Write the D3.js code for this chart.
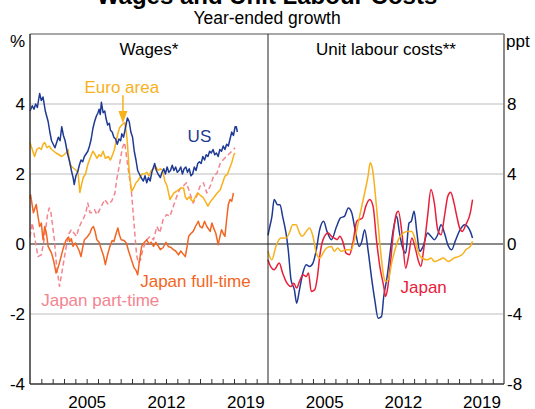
<!DOCTYPE html>
<html>
<head>
<meta charset="utf-8">
<script src="https://cdn.jsdelivr.net/npm/d3@7"></script>
<style>
  body { margin: 0; background: #fff; }
  text { font-family: Arial, "Liberation Sans", sans-serif; }
</style>
</head>
<body>
<div id="wrapper"></div>
<script>
// Wages panel (per cent, year-ended)
const usWages = [[2000.0,3.8],[2000.2,3.95],[2000.35,3.85],[2000.5,4.0],[2000.65,3.9],[2000.85,4.3],[2001.0,4.1],[2001.15,4.2],[2001.35,3.8],[2001.6,3.5],[2001.75,3.2],[2001.9,2.95],[2002.05,2.85],[2002.2,2.75],[2002.35,2.9],[2002.5,3.05],[2002.65,2.95],[2002.8,3.35],[2002.95,3.1],[2003.1,2.95],[2003.3,2.6],[2003.5,2.35],[2003.65,2.1],[2003.8,1.9],[2003.9,1.7],[2004.05,1.95],[2004.2,2.05],[2004.35,2.25],[2004.5,2.4],[2004.65,2.35],[2004.8,2.5],[2005.0,2.6],[2005.1,2.65],[2005.25,2.8],[2005.4,3.0],[2005.55,3.3],[2005.7,3.5],[2005.85,3.65],[2006.0,3.75],[2006.1,3.85],[2006.2,3.7],[2006.3,4.05],[2006.45,3.75],[2006.6,3.8],[2006.7,3.6],[2006.85,3.4],[2007.0,3.45],[2007.1,3.25],[2007.25,3.2],[2007.4,3.05],[2007.55,3.0],[2007.7,2.85],[2007.85,3.0],[2008.0,2.95],[2008.1,3.15],[2008.25,3.05],[2008.35,3.2],[2008.5,3.45],[2008.6,3.6],[2008.75,3.5],[2008.9,3.2],[2009.05,3.05],[2009.2,2.65],[2009.35,2.4],[2009.5,2.1],[2009.65,2.0],[2009.8,1.9],[2010.0,1.8],[2010.15,1.95],[2010.3,1.75],[2010.45,1.9],[2010.6,1.8],[2010.75,2.05],[2010.9,2.2],[2011.0,2.3],[2011.15,2.1],[2011.3,2.0],[2011.5,1.9],[2011.65,2.05],[2011.8,2.15],[2011.95,2.0],[2012.1,2.2],[2012.25,2.05],[2012.4,2.1],[2012.55,2.25],[2012.7,2.1],[2012.85,2.2],[2013.0,2.05],[2013.15,2.1],[2013.3,2.2],[2013.45,2.0],[2013.6,2.15],[2013.75,2.2],[2013.9,2.05],[2014.05,2.15],[2014.2,1.95],[2014.35,2.0],[2014.5,2.2],[2014.65,2.1],[2014.8,2.3],[2014.95,2.35],[2015.1,2.3],[2015.25,2.5],[2015.4,2.4],[2015.55,2.55],[2015.7,2.5],[2015.85,2.65],[2016.0,2.6],[2016.15,2.7],[2016.3,2.55],[2016.45,2.6],[2016.6,2.5],[2016.75,2.7],[2016.9,2.65],[2017.05,2.8],[2017.2,2.7],[2017.35,2.85],[2017.5,2.8],[2017.65,3.0],[2017.8,3.2],[2017.95,3.1],[2018.1,3.35],[2018.2,3.35],[2018.3,3.2]];

const euroWages = [[2000.0,2.9],[2000.2,2.7],[2000.4,2.5],[2000.6,2.7],[2000.8,2.75],[2001.0,2.7],[2001.15,2.85],[2001.3,2.9],[2001.5,2.75],[2001.7,2.8],[2001.9,2.7],[2002.1,2.65],[2002.3,2.6],[2002.55,2.55],[2002.8,2.5],[2003.0,2.55],[2003.2,2.6],[2003.35,2.7],[2003.5,2.3],[2003.7,2.2],[2003.9,2.15],[2004.1,2.1],[2004.25,2.0],[2004.4,1.47],[2004.55,1.7],[2004.7,1.9],[2004.9,2.0],[2005.1,2.27],[2005.3,2.45],[2005.55,2.65],[2005.75,2.55],[2005.9,2.45],[2006.1,2.55],[2006.25,2.5],[2006.45,2.65],[2006.65,2.45],[2006.9,2.5],[2007.1,2.4],[2007.3,2.56],[2007.45,2.7],[2007.6,2.94],[2007.75,3.15],[2007.9,3.32],[2008.1,3.4],[2008.35,3.47],[2008.5,3.2],[2008.6,2.85],[2008.75,2.1],[2008.95,1.5],[2009.15,1.6],[2009.35,1.75],[2009.5,1.8],[2009.7,1.9],[2009.9,2.0],[2010.1,2.0],[2010.3,2.05],[2010.5,1.95],[2010.7,2.1],[2010.9,2.15],[2011.1,2.2],[2011.3,2.1],[2011.5,2.15],[2011.7,2.1],[2011.9,1.8],[2012.1,1.65],[2012.35,1.27],[2012.5,1.35],[2012.7,1.46],[2012.9,1.5],[2013.1,1.55],[2013.3,1.6],[2013.55,1.6],[2013.7,1.35],[2013.85,1.27],[2014.05,1.35],[2014.25,1.25],[2014.4,1.22],[2014.6,1.35],[2014.8,1.46],[2015.0,1.4],[2015.3,1.32],[2015.5,1.2],[2015.7,1.08],[2015.9,1.2],[2016.2,1.32],[2016.5,1.45],[2016.8,1.56],[2017.0,1.75],[2017.2,1.94],[2017.4,1.98],[2017.6,2.15],[2017.8,2.32],[2018.0,2.56],[2018.1,2.6]];

const japanFullTime = [[2000.0,1.3],[2000.05,1.41],[2000.3,0.89],[2000.55,1.13],[2000.7,0.8],[2000.85,0.5],[2001.0,0.6],[2001.15,0.12],[2001.3,0.5],[2001.45,0.3],[2001.6,-0.07],[2001.9,-0.26],[2002.1,-0.5],[2002.3,-0.83],[2002.45,-0.7],[2002.6,-0.54],[2002.9,-0.16],[2003.05,0.0],[2003.2,0.12],[2003.4,0.2],[2003.5,0.07],[2003.65,0.15],[2003.8,-0.07],[2004.0,0.03],[2004.2,-0.1],[2004.35,-0.2],[2004.5,-0.36],[2004.65,-0.1],[2004.8,0.12],[2005.05,0.2],[2005.3,0.32],[2005.45,0.45],[2005.6,0.5],[2005.75,0.35],[2005.9,0.12],[2006.1,0.05],[2006.3,-0.16],[2006.5,-0.35],[2006.65,-0.59],[2006.85,-0.3],[2007.05,-0.07],[2007.25,0.1],[2007.4,0.07],[2007.6,0.3],[2007.75,0.46],[2007.9,0.25],[2008.05,0.12],[2008.3,0.1],[2008.5,0.03],[2008.7,-0.2],[2008.95,-0.45],[2009.2,-0.69],[2009.35,-0.75],[2009.5,-0.88],[2009.65,-0.5],[2009.85,-0.07],[2010.1,0.05],[2010.3,0.12],[2010.5,0.0],[2010.7,0.05],[2010.9,-0.07],[2011.1,0.05],[2011.3,-0.05],[2011.5,-0.16],[2011.75,-0.1],[2012.0,0.05],[2012.2,-0.07],[2012.45,-0.1],[2012.65,-0.16],[2012.85,-0.2],[2013.1,-0.31],[2013.3,-0.2],[2013.45,-0.26],[2013.7,-0.36],[2013.85,-0.1],[2014.0,0.22],[2014.2,0.3],[2014.4,0.36],[2014.6,0.5],[2014.85,0.65],[2015.0,0.5],[2015.2,0.46],[2015.4,0.65],[2015.6,0.5],[2015.9,0.36],[2016.05,0.6],[2016.2,0.46],[2016.4,0.3],[2016.6,-0.02],[2016.9,0.41],[2017.05,0.3],[2017.2,0.22],[2017.35,0.7],[2017.5,1.13],[2017.65,1.27],[2017.8,1.22],[2017.95,1.46]];

const japanPartTime = [[2000.0,0.2],[2000.2,0.6],[2000.4,0.22],[2000.7,-0.36],[2001.0,-0.31],[2001.3,0.22],[2001.55,0.85],[2001.7,1.03],[2001.85,0.89],[2002.15,0.12],[2002.35,-0.64],[2002.6,-1.21],[2002.85,-0.74],[2003.2,-0.07],[2003.45,0.3],[2003.65,0.41],[2003.9,0.3],[2004.1,0.22],[2004.3,0.45],[2004.5,0.6],[2004.75,0.75],[2004.95,0.93],[2005.1,1.17],[2005.3,0.89],[2005.5,0.9],[2005.7,0.98],[2005.9,0.84],[2006.1,0.95],[2006.3,1.08],[2006.6,1.27],[2006.9,1.13],[2007.2,1.22],[2007.5,1.46],[2007.65,1.84],[2007.9,2.27],[2008.15,2.75],[2008.35,2.9],[2008.6,2.3],[2008.95,1.5],[2009.2,0.5],[2009.4,-0.3],[2009.55,-0.54],[2009.75,-0.45],[2009.95,-0.16],[2010.3,0.12],[2010.6,0.22],[2010.9,0.12],[2011.2,0.5],[2011.45,0.32],[2011.75,0.7],[2012.05,0.84],[2012.35,0.79],[2012.65,1.08],[2012.95,1.36],[2013.2,1.56],[2013.5,1.65],[2013.8,1.75],[2014.1,1.46],[2014.4,1.17],[2014.7,1.36],[2015.0,1.65],[2015.3,1.75],[2015.6,1.46],[2015.9,1.65],[2016.2,1.94],[2016.5,2.03],[2016.8,2.32],[2017.05,2.41],[2017.35,2.51],[2017.65,2.6],[2017.95,2.7],[2018.1,2.75]];

// Unit labour costs panel (ppt)
const usULC = [[2000.0,0.5],[2000.1,0.82],[2000.35,1.58],[2000.55,2.54],[2000.85,2.25],[2001.07,2.25],[2001.3,1.58],[2001.6,0.63],[2001.8,-0.33],[2002.05,-2.05],[2002.35,-2.62],[2002.55,-3.38],[2002.8,-2.62],[2003.1,-1.66],[2003.4,-1.19],[2003.7,-1.28],[2004.0,-1.09],[2004.3,-0.33],[2004.6,0.82],[2004.95,1.3],[2005.25,0.72],[2005.65,0.25],[2006.1,1.0],[2006.45,1.49],[2006.8,1.58],[2007.15,2.06],[2007.45,1.78],[2007.75,0.82],[2008.1,-0.14],[2008.35,0.15],[2008.6,0.82],[2008.9,-0.33],[2009.2,-1.86],[2009.5,-3.19],[2009.8,-4.24],[2010.1,-4.15],[2010.3,-3.0],[2010.6,-1.86],[2010.9,-0.33],[2011.15,0.82],[2011.45,1.58],[2011.7,0.63],[2011.95,-0.14],[2012.25,-0.52],[2012.55,1.2],[2012.75,1.3],[2013.0,1.87],[2013.25,0.63],[2013.5,-0.42],[2013.8,-0.14],[2014.2,0.63],[2014.5,0.44],[2014.8,0.25],[2015.1,0.53],[2015.4,1.1],[2015.7,0.63],[2016.0,-0.04],[2016.35,-0.33],[2016.65,0.15],[2017.1,0.82],[2017.5,1.1],[2017.75,1.0],[2018.0,0.72],[2018.2,0.34]];

const euroULC = [[2000.0,-0.4],[2000.05,-0.52],[2000.35,-0.9],[2000.7,-0.14],[2001.15,0.34],[2001.6,0.34],[2001.9,0.63],[2002.2,1.1],[2002.5,1.1],[2002.8,0.63],[2003.05,0.44],[2003.4,0.72],[2003.7,0.92],[2004.0,0.44],[2004.3,-0.52],[2004.6,-0.8],[2004.9,-0.52],[2005.2,-0.23],[2005.65,-0.14],[2005.9,-0.42],[2006.2,-0.23],[2006.5,-0.42],[2006.9,-0.33],[2007.4,-0.33],[2007.7,0.25],[2008.15,1.58],[2008.6,2.92],[2008.9,3.87],[2009.1,4.64],[2009.3,4.26],[2009.65,2.15],[2009.95,0.06],[2010.3,-1.86],[2010.45,-2.14],[2010.7,-2.05],[2011.0,-1.09],[2011.3,-0.33],[2011.6,0.25],[2012.05,0.63],[2012.4,0.72],[2012.8,0.72],[2013.1,0.25],[2013.4,-0.52],[2013.7,-0.8],[2014.2,-0.9],[2014.5,-0.8],[2014.8,-1.0],[2015.25,-0.9],[2015.6,-0.8],[2016.05,-1.0],[2016.55,-0.8],[2017.0,-0.71],[2017.4,-0.52],[2017.6,-0.33],[2018.0,-0.14],[2018.2,0.15]];

const japanULC = [[2000.0,-0.9],[2000.05,-1.0],[2000.55,-1.47],[2001.0,-1.09],[2001.3,-1.66],[2001.6,-2.14],[2002.05,-2.43],[2002.3,-2.24],[2002.55,-2.52],[2002.8,-2.14],[2003.1,-1.76],[2003.4,-1.86],[2003.6,-1.66],[2003.85,-2.71],[2004.15,-2.62],[2004.4,-1.86],[2004.6,-0.71],[2004.9,0.25],[2005.35,0.63],[2005.65,0.44],[2005.9,0.34],[2006.15,0.25],[2006.4,0.44],[2006.65,0.15],[2006.95,-0.52],[2007.25,-0.61],[2007.55,0.06],[2007.9,1.3],[2008.4,1.49],[2008.7,2.15],[2009.05,2.54],[2009.35,2.15],[2009.65,0.25],[2009.95,-1.28],[2010.3,-2.43],[2010.45,-3.0],[2010.6,-2.71],[2010.9,-1.09],[2011.15,0.63],[2011.45,1.78],[2011.6,1.87],[2011.95,0.44],[2012.25,-1.38],[2012.5,-0.71],[2012.8,0.34],[2013.1,-0.23],[2013.4,-1.0],[2013.6,-1.28],[2013.85,-0.33],[2014.2,1.58],[2014.5,3.11],[2014.8,2.35],[2015.1,0.82],[2015.4,0.53],[2015.7,1.58],[2016.0,2.73],[2016.25,2.96],[2016.55,2.35],[2016.8,1.58],[2017.05,0.92],[2017.3,0.72],[2017.6,1.1],[2018.0,1.78],[2018.2,2.54]];

const leftTicks = [-4, -2, 0, 2, 4];
const rightTicks = [-8, -4, 0, 4, 8];
const yearLabels = [2005, 2012, 2019];
const yearTicks = d3.range(2001, 2021);

const colors = {
  us: "#1f3a93",
  euro: "#f7b11b",
  japanFT: "#f26522",
  japanPT: "#f4848f",
  japanULC: "#e8203a",
};

const width = 535;
const height = 409;
const plot = { left: 30, mid: 268, right: 504, top: 34, bottom: 384 };
const fontFamily = "Arial, 'Liberation Sans', sans-serif";

const svg = d3
  .select("#wrapper")
  .append("svg")
  .attr("width", width)
  .attr("height", height)
  .style("display", "block");

const xLeft = d3.scaleLinear().domain([2000, 2021]).range([plot.left, plot.mid]);
const xRight = d3.scaleLinear().domain([2000, 2021]).range([plot.mid, plot.right]);
const yLeft = d3.scaleLinear().domain([-4, 6]).range([plot.bottom, plot.top]);
const yRight = d3.scaleLinear().domain([-8, 12]).range([plot.bottom, plot.top]);

// titles
svg.append("text")
  .attr("x", 267).attr("y", 4)
  .attr("text-anchor", "middle")
  .attr("font-size", "24px").attr("font-weight", "bold")
  .attr("fill", "#000")
  .text("Wages and Unit Labour Costs");

svg.append("text")
  .attr("x", 267).attr("y", 24)
  .attr("text-anchor", "middle")
  .attr("font-size", "17.5px")
  .text("Year-ended growth");

// gridlines
const grid = svg.append("g");
[-2, 2, 4].forEach((v) => {
  grid.append("line")
    .attr("x1", plot.left).attr("x2", plot.right)
    .attr("y1", yLeft(v)).attr("y2", yLeft(v))
    .attr("stroke", "#d3d3d3").attr("stroke-width", 1.5);
});
grid.append("line")
  .attr("x1", plot.left).attr("x2", plot.right)
  .attr("y1", yLeft(0)).attr("y2", yLeft(0))
  .attr("stroke", "#8a8a8a").attr("stroke-width", 2);

// lines
const lineLeft = d3.line().x((d) => xLeft(d[0])).y((d) => yLeft(d[1]));
const lineRight = d3.line().x((d) => xRight(d[0])).y((d) => yRight(d[1])).curve(d3.curveMonotoneX);

const series = svg.append("g").attr("fill", "none").attr("stroke-width", 1.5).attr("stroke-linejoin", "round");

series.append("path").datum(japanPartTime).attr("d", lineLeft)
  .attr("stroke", colors.japanPT).attr("stroke-dasharray", "5,3");
series.append("path").datum(japanFullTime).attr("d", lineLeft).attr("stroke", colors.japanFT);
series.append("path").datum(euroWages).attr("d", lineLeft).attr("stroke", colors.euro);
series.append("path").datum(usWages).attr("d", lineLeft).attr("stroke", colors.us);

series.append("path").datum(usULC).attr("d", lineRight).attr("stroke", colors.us);
series.append("path").datum(japanULC).attr("d", lineRight).attr("stroke", colors.japanULC);
series.append("path").datum(euroULC).attr("d", lineRight).attr("stroke", colors.euro);

// frame
svg.append("line").attr("x1", plot.left).attr("x2", plot.right).attr("y1", plot.top).attr("y2", plot.top)
  .attr("stroke", "#8a8a8a").attr("stroke-width", 1.5);
svg.append("line").attr("x1", plot.right).attr("x2", plot.right).attr("y1", plot.top).attr("y2", plot.bottom)
  .attr("stroke", "#8a8a8a").attr("stroke-width", 2);
svg.append("line").attr("x1", plot.left).attr("x2", plot.left).attr("y1", plot.top).attr("y2", plot.bottom)
  .attr("stroke", "#333").attr("stroke-width", 1.5);
svg.append("line").attr("x1", plot.mid).attr("x2", plot.mid).attr("y1", plot.top).attr("y2", plot.bottom)
  .attr("stroke", "#222").attr("stroke-width", 1);

// x axes
const fmtYear = (d) => (yearLabels.includes(d) ? String(d) : "");
[xLeft, xRight].forEach((xs) => {
  const ax = svg.append("g")
    .attr("transform", `translate(0,${plot.bottom})`)
    .call(d3.axisBottom(xs).tickValues(yearTicks).tickSize(-5).tickPadding(12).tickFormat(fmtYear));
  ax.select(".domain").remove();
  ax.selectAll("line").attr("stroke", "#333");
  ax.selectAll("text").attr("font-size", "17px").attr("fill", "#000").attr("font-family", fontFamily);
});
svg.append("line").attr("x1", plot.left).attr("x2", plot.right).attr("y1", plot.bottom).attr("y2", plot.bottom)
  .attr("stroke", "#333").attr("stroke-width", 1.5);

// y axes (plain hyphen for negatives, as in the reference)
const yAxL = svg.append("g").attr("transform", `translate(${plot.left},0)`)
  .call(d3.axisLeft(yLeft).tickValues(leftTicks).tickSize(0).tickPadding(5).tickFormat((d) => String(d)));
const yAxR = svg.append("g").attr("transform", `translate(${plot.right},0)`)
  .call(d3.axisRight(yRight).tickValues(rightTicks).tickSize(0).tickPadding(3).tickFormat((d) => String(d)));
[yAxL, yAxR].forEach((ax) => {
  ax.select(".domain").remove();
  ax.selectAll("text").attr("font-size", "17px").attr("fill", "#000").attr("font-family", fontFamily);
});

// units
svg.append("text").attr("x", 10).attr("y", 47).attr("font-size", "17px").text("%");
svg.append("text").attr("x", 506).attr("y", 47).attr("font-size", "17px").text("ppt");

// panel titles
svg.append("text").attr("x", (plot.left + plot.mid) / 2).attr("y", 55)
  .attr("text-anchor", "middle").attr("font-size", "17px").text("Wages*");
svg.append("text").attr("x", (plot.mid + plot.right) / 2).attr("y", 55)
  .attr("text-anchor", "middle").attr("font-size", "17px").text("Unit labour costs**");

// series labels
const labels = [
  { text: "Euro area", x: 2008.1, y: 4.32, color: colors.euro, xs: xLeft, ys: yLeft },
  { text: "US", x: 2014.95, y: 2.92, color: colors.us, xs: xLeft, ys: yLeft },
  { text: "Japan full-time", x: 2014.6, y: -1.23, color: colors.japanFT, xs: xLeft, ys: yLeft },
  { text: "Japan part-time", x: 2006.2, y: -1.77, color: colors.japanPT, xs: xLeft, ys: yLeft },
  { text: "Japan", x: 2013.85, y: -2.8, color: colors.japanULC, xs: xRight, ys: yRight },
];
labels.forEach((l) => {
  svg.append("text")
    .attr("x", l.xs(l.x)).attr("y", l.ys(l.y))
    .attr("text-anchor", "middle")
    .attr("font-size", "17px")
    .attr("fill", l.color)
    .text(l.text);
});

// arrow for Euro area
const arrowX = xLeft(2008.2);
svg.append("line")
  .attr("x1", arrowX).attr("x2", arrowX)
  .attr("y1", yLeft(4.25)).attr("y2", yLeft(3.75))
  .attr("stroke", colors.euro).attr("stroke-width", 1.5);
svg.append("path")
  .attr("d", `M${arrowX - 4.5},${yLeft(3.8)} L${arrowX + 4.5},${yLeft(3.8)} L${arrowX},${yLeft(3.45)} Z`)
  .attr("fill", colors.euro);
</script>
</body>
</html>
